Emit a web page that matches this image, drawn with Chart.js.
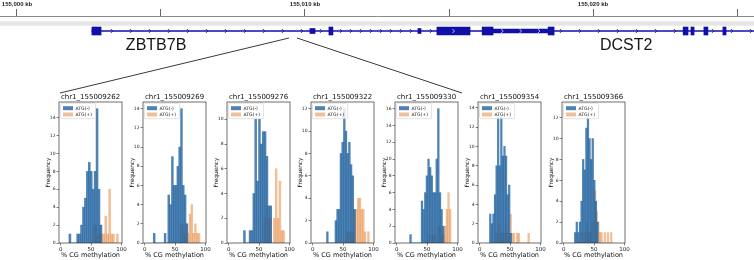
<!DOCTYPE html>
<html>
<head>
<meta charset="utf-8">
<script src="https://cdn.jsdelivr.net/npm/chart.js@4.4.1/dist/chart.umd.min.js"></script>
<style>
  html, body { margin:0; padding:0; background:#ffffff; }
  #wrap { position:relative; width:754px; height:260px; overflow:hidden; background:#ffffff; }
  #wrap canvas { position:absolute; }
</style>
</head>
<body>
<div id="wrap"></div>
<script>
// ================= DATA =================
// genome ruler (kb)
const rulerMinKb = 154999.41;
const rulerMaxKb = 155025.59;
const rulerStepKb = 5;

// gene model (kb)
const geneNames = ['ZBTB7B', 'DCST2'];
const geneLabelKb = [155004.83, 155021.15];
const intronKb = [[155002.60, 155025.59]];
const exonTallKb = [[155002.60,155002.92],[155010.83,155010.97],[155014.58,155015.73],[155016.15,155016.53],
                    [155018.44,155018.65],[155023.13,155023.30],[155023.40,155023.51],[155023.85,155023.99],[155024.51,155024.62]];
const exonSmallKb = [[155010.17,155010.35],[155013.92,155014.03]];
const exonMidKb = [[155016.53,155018.44]];

// histogram panels
const panelTitles = ['chr1_155009262','chr1_155009269','chr1_155009276','chr1_155009322','chr1_155009330','chr1_155009354','chr1_155009366'];
const seriesNames = ['ATG(-)', 'ATG(+)'];
const xTickValues = [0, 50, 100];
const yMax = [15.75, 14.7, 11.4, 12.6, 16.8, 14.6, 13.5];

// bin definition (% CG methylation)
const binStartNeg = [13.4, 14.0, 24.2, 22.6, 21.3, 16.0, 17.5];
const binWidthNeg = [3.2, 3.0, 3.1, 2.8, 2.7, 2.6, 2.63];
const binStartPos = [53.4, 58.0, 58.0, 54.0, 51.6, 25.3, 29.2];
const binWidthPos = [3.2, 3.0, 3.1, 2.8, 2.7, 2.7, 2.65];

// counts, ATG(-)
const neg262 = [1,0,0,0,1,1,2,4,5,8,9,8,6,8,15,6,2];
const neg269 = [1,0,0,0,0,0,1,0,5,4,9,6,6,8,10,14,6,5,2];
const neg276 = [1,0,0,1,1,4,10,5,10,8,9,9,7,3,3];
const neg322 = [1,0,0,0,0,2,3,3,8,9,12,10,8,9,7,6,3];
const neg330 = [1,0,0,0,0,0,0,5,4,6,8,10,9,8,6,6,10,16,6,4,2];
const neg354 = [3,2,3,5,8,13,8,13,9,10,9,5,6,1];
const neg366 = [1,2,1,2,4,8,7,11,12,10,8,10,6,4,2];
// counts, ATG(+)
const pos262 = [2,2,1,2,1,1,3,1,6,1,1,0,1];
const pos269 = [2,2,1,2,1,3,4,1,2,1,1];
const pos276 = [2,3,2,2,0,2,6,2,5,1,1];
const pos322 = [1,1,1,1,1,3,3,4,4,3,3,1,0,1];
const pos330 = [1,0,1,1,1,0,2,2,1,1,2,4,6,4];
const pos354 = [1,1,2,1,1,1,2,1,1,3,1,1,0,1,1,0,0,0,0,0,1];
const pos366 = [1,0,1,2,1,1,2,2,5,3,2,1,1,0,1,0,1,0,1];

const negCounts = [neg262, neg269, neg276, neg322, neg330, neg354, neg366];
const posCounts = [pos262, pos269, pos276, pos322, pos330, pos354, pos366];

// ================= STYLE / LAYOUT =================
const GENE = '#1010a8';
const BLUE = 'rgba(35,100,160,0.8)';
const ORANGE = 'rgba(230,130,50,0.5)';
const FONT = '"DejaVu Sans", sans-serif';
const panelPlotLeft = [59, 143, 227, 311, 395, 478, 562];
const plotW = 63;

function makeCanvas(left, top, w, h) {
  const c = document.createElement('canvas');
  c.width = w; c.height = h;
  c.style.left = left + 'px'; c.style.top = top + 'px';
  c.style.width = w + 'px'; c.style.height = h + 'px';
  document.getElementById('wrap').appendChild(c);
  return c;
}

// ---------- top gene track ----------
function chevron(ctx, px, py, color, lw) {
  ctx.strokeStyle = color; ctx.lineWidth = lw;
  ctx.beginPath();
  ctx.moveTo(px - 1, py - 2); ctx.lineTo(px + 1, py); ctx.lineTo(px - 1, py + 2);
  ctx.stroke();
}

const trackDecor = {
  id: 'trackDecor',
  afterDatasetsDraw(chart) {
    const {ctx, scales: {x, y}} = chart;
    const yLine = y.getPixelForValue(15);
    ctx.save();
    const ex = [...exonTallKb, ...exonSmallKb, ...exonMidKb].map(e => [x.getPixelForValue(e[0]), x.getPixelForValue(e[1])]);
    const xs = x.getPixelForValue(intronKb[0][0]);
    const xe = x.getPixelForValue(intronKb[0][1]);
    let p = xs + 20;
    while (p < xe) {
      const inside = ex.some(e => p > e[0] - 2.5 && p < e[1] + 2.5);
      if (!inside) chevron(ctx, p, yLine, GENE, 0.8);
      p += (p > 320 && p < 560) ? 10 : 19;
    }
    // strand marks inside wide exons
    [...exonTallKb, ...exonMidKb].forEach(e => {
      const a = x.getPixelForValue(e[0]), b = x.getPixelForValue(e[1]);
      const w = b - a;
      if (w > 15) {
        const n = Math.max(1, Math.floor(w / 18));
        for (let k = 0; k < n; k++) chevron(ctx, a + w * (k + 0.5) / n, yLine, '#ffffff', 0.7);
      }
    });
    // gene names
    ctx.fillStyle = '#151515';
    ctx.font = '16px "Liberation Sans", Arial, sans-serif';
    ctx.textAlign = 'center'; ctx.textBaseline = 'alphabetic';
    geneNames.forEach((g, i) => ctx.fillText(g, x.getPixelForValue(geneLabelKb[i]), 50));
    // zoom connector lines
    ctx.strokeStyle = '#3a3a3a'; ctx.lineWidth = 1;
    ctx.beginPath();
    ctx.moveTo(289, 38); ctx.lineTo(60, 93);
    ctx.moveTo(297, 38); ctx.lineTo(462, 93);
    ctx.stroke();
    ctx.restore();
  }
};

const trackCanvas = makeCanvas(0, 0, 754, 95);
const spanData = (arr, yv) => arr.map(s => ({y: yv, x: s}));
new Chart(trackCanvas, {
  type: 'bar',
  data: {
    datasets: [
      {label: 'sequence', data: [{y: 7.5, x: [rulerMinKb, rulerMaxKb]}], backgroundColor: '#e6e6e6', barThickness: 4, grouped: false},
      {label: 'intron', data: spanData(intronKb, 15), backgroundColor: GENE, barThickness: 1, grouped: false},
      {label: 'utr', data: spanData(exonMidKb, 15), backgroundColor: GENE, barThickness: 4, grouped: false},
      {label: 'small exon', data: spanData(exonSmallKb, 15), backgroundColor: GENE, barThickness: 5, grouped: false},
      {label: 'exon', data: spanData(exonTallKb, 15), backgroundColor: GENE, barThickness: 8, grouped: false}
    ]
  },
  options: {
    indexAxis: 'y', responsive: false, animation: false, devicePixelRatio: 1,
    layout: {padding: 0},
    scales: {
      x: {
        type: 'linear', position: 'top', min: rulerMinKb, max: rulerMaxKb,
        afterFit(s) { s.height = 16; },
        ticks: {
          stepSize: rulerStepKb, autoSkip: false, maxRotation: 0, includeBounds: false, padding: 1,
          color: '#222', font: {family: '"Liberation Sans", Arial, sans-serif', size: 6, weight: 'bold'},
          callback: (v) => (Math.round(v) % 10 === 0 ? Math.round(v).toLocaleString('en-US') + ' kb' : '')
        },
        grid: {drawOnChartArea: false, drawTicks: true, tickLength: 7, color: '#666', lineWidth: 1},
        border: {display: true, color: '#8a8a8a', width: 1}
      },
      y: {type: 'linear', display: false, min: 0, max: 79, reverse: true, offset: false}
    },
    plugins: {legend: {display: false}, tooltip: {enabled: false}, title: {display: false}}
  },
  plugins: [trackDecor]
});

// ---------- histogram panels ----------
const panelDecor = {
  id: 'panelDecor',
  afterDatasetsDraw(chart) {
    const {ctx, chartArea: a} = chart;
    ctx.save();
    // legend
    ctx.font = '4.6px ' + FONT;
    const labels = chart.data.datasets.map(d => d.label);
    const tw = Math.max(...labels.map(t => ctx.measureText(t).width));
    const x0 = a.left + 1.5, y0 = a.top + 1.2, w = 15.5 + tw + 3, h = 15.5;
    ctx.beginPath();
    if (ctx.roundRect) ctx.roundRect(x0, y0, w, h, 1.5); else ctx.rect(x0, y0, w, h);
    ctx.fillStyle = 'rgba(255,255,255,0.8)'; ctx.fill();
    ctx.strokeStyle = '#d0d0d0'; ctx.lineWidth = 0.6; ctx.stroke();
    chart.data.datasets.forEach((d, r) => {
      const yy = y0 + 3 + r * 6.3;
      ctx.fillStyle = d.backgroundColor;
      ctx.fillRect(x0 + 2.5, yy, 10, 4);
      ctx.fillStyle = '#1a1a1a';
      ctx.textAlign = 'left'; ctx.textBaseline = 'middle';
      ctx.fillText(d.label, x0 + 15, yy + 2.2);
    });
    ctx.restore();
  },
  afterDraw(chart) {
    const {ctx, chartArea: a} = chart;
    ctx.save();
    ctx.strokeStyle = '#333'; ctx.lineWidth = 0.7;
    ctx.strokeRect(a.left, a.top, a.right - a.left, a.bottom - a.top);
    ctx.restore();
  }
};

function binData(counts, start, width) {
  return counts.map((c, k) => ({x: +(start + (k + 0.5) * width).toFixed(3), y: c}));
}

panelTitles.forEach((title, i) => {
  const L = panelPlotLeft[i];
  const cv = makeCanvas(L - 20, 90, plotW + 20 + 12, 170);
  new Chart(cv, {
    type: 'bar',
    data: {
      datasets: [
        {label: seriesNames[0], data: binData(negCounts[i], binStartNeg[i], binWidthNeg[i]), xAxisID: 'x',
         backgroundColor: BLUE, grouped: false, barPercentage: 1, categoryPercentage: 1, borderWidth: 0},
        {label: seriesNames[1], data: binData(posCounts[i], binStartPos[i], binWidthPos[i]), xAxisID: 'x2',
         backgroundColor: ORANGE, grouped: false, barPercentage: 1, categoryPercentage: 1, borderWidth: 0}
      ]
    },
    options: {
      responsive: false, animation: false, devicePixelRatio: 1,
      layout: {padding: {left: 0, right: 12, top: 0, bottom: 0}},
      scales: {
        x: {
          type: 'linear', min: -3, max: 101, offset: false,
          afterFit(s) { s.height = 17; },
          afterBuildTicks(s) { s.ticks = xTickValues.map(v => ({value: v})); },
          ticks: {autoSkip: false, maxRotation: 0, padding: 0.5, color: '#222', font: {family: FONT, size: 5.5}},
          grid: {offset: false, drawOnChartArea: false, drawTicks: true, tickLength: 2.5, color: '#333', lineWidth: 0.6},
          border: {display: false},
          title: {display: true, text: '% CG methylation', color: '#111', font: {family: FONT, size: 6.5}, padding: {top: 0, bottom: 0.5}}
        },
        x2: {type: 'linear', min: -3, max: 101, offset: false, display: false, grid: {offset: false}},
        y: {
          min: 0, max: yMax[i],
          afterFit(s) { s.width = 20; },
          ticks: {stepSize: 2, includeBounds: false, padding: 1, color: '#222', font: {family: FONT, size: 4.5}},
          grid: {drawOnChartArea: false, drawTicks: true, tickLength: 2.5, color: '#333', lineWidth: 0.6},
          border: {display: false},
          title: {display: true, text: 'Frequency', color: '#111', font: {family: FONT, size: 5.8}, padding: {top: 6.5, bottom: 0}}
        }
      },
      plugins: {
        legend: {display: false},
        tooltip: {enabled: false},
        title: {display: true, fullSize: false, text: title, color: '#111', font: {family: FONT, size: 7, weight: 'normal'}, padding: {top: 2.6, bottom: 1}}
      }
    },
    plugins: [panelDecor]
  });
});
</script>
</body>
</html>
